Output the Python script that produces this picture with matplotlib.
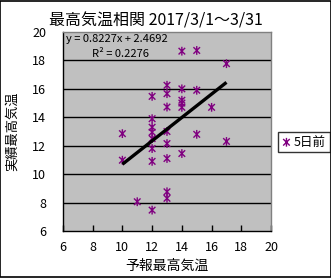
import numpy as np
import matplotlib
matplotlib.use("Agg")
import matplotlib.pyplot as plt
from matplotlib.path import Path
from matplotlib.patches import Rectangle

plt.rcParams['font.family'] = ['Noto Sans CJK JP', 'DejaVu Sans']

# Data (forecast max temp vs actual max temp)
forecast = [10, 10,
            11,
            12, 12, 12, 12, 12, 12, 12, 12,
            13, 13, 13, 13, 13, 13, 13, 13,
            14, 14, 14, 14, 14, 14,
            15, 15, 15,
            16,
            17, 17]
actual = [12.85, 10.98,
          8.06,
          15.47, 13.9, 13.3, 12.95, 12.5, 11.8, 10.9, 7.47,
          16.25, 15.66, 14.72, 13.0, 12.15, 11.1, 8.76, 8.3,
          18.65, 16.0, 15.2, 15.0, 14.7, 11.45,
          18.7, 15.9, 12.8,
          14.7,
          17.77, 12.3]
slope = 0.8227
intercept = 2.4692
r2 = 0.2276
series_name = "5日前"
title = "最高気温相関 2017/3/1～3/31"
xlabel = "予報最高気温"
ylabel = "実績最高気温"
xticks = [6, 8, 10, 12, 14, 16, 18, 20]
yticks = [6, 8, 10, 12, 14, 16, 18, 20]

# Excel-style star marker: vertical bar + X
star = Path([(0, -1), (0, 1), (-0.75, -0.75), (0.75, 0.75), (-0.75, 0.75), (0.75, -0.75)],
            [Path.MOVETO, Path.LINETO, Path.MOVETO, Path.LINETO, Path.MOVETO, Path.LINETO])

fig = plt.figure(figsize=(3.31, 2.78), dpi=100)
fig.patches.append(Rectangle((0.0015, 0.0018), 0.997, 0.996, transform=fig.transFigure,
                             fill=False, edgecolor='black', linewidth=1.2))
ax = fig.add_axes([0.190, 0.169, 0.629, 0.716])
ax.set_facecolor('#c0c0c0')
ax.set_xlim(6, 20)
ax.set_ylim(6, 20)
ax.set_xticks(xticks)
ax.set_yticks(yticks)
for y in yticks[1:-1]:
    ax.axhline(y, color='black', linewidth=1.0, zorder=1)

ax.scatter(forecast, actual, marker=star, s=40, facecolors='none', edgecolors='#800080',
           linewidths=1.0, zorder=3, label=series_name)

xs = np.array([min(forecast), max(forecast)])
ax.plot(xs, slope * xs + intercept, color='black', linewidth=2.4, zorder=4,
        solid_capstyle='butt')

for side in ['top', 'right']:
    ax.spines[side].set_color('#808080')
    ax.spines[side].set_linewidth(1.0)
for side in ['left', 'bottom']:
    ax.spines[side].set_color('black')
    ax.spines[side].set_linewidth(1.0)

ax.tick_params(axis='x', direction='in', length=4, width=1, pad=7, labelsize=9)
ax.tick_params(axis='y', length=0, pad=12, labelsize=9)

ax.text(0.015, 0.99, f"y = {slope}x + {intercept}", transform=ax.transAxes,
        ha='left', va='top', fontsize=8)
ax.text(0.14, 0.915, f"R² = {r2}", transform=ax.transAxes,
        ha='left', va='top', fontsize=8)

fig.text(0.47, 0.925, title, ha='center', va='center', fontsize=11.5)
fig.text(0.505, 0.042, xlabel, ha='center', va='center', fontsize=10)
fig.text(0.036, 0.527, ylabel, ha='center', va='center', rotation=90, fontsize=9.5)

leg = fig.legend(loc='center left', bbox_to_anchor=(0.822, 0.489), frameon=True,
                 fancybox=False, edgecolor='black', fontsize=9, handlelength=0.7,
                 handletextpad=0.25, borderpad=0.3, markerscale=1.0)
leg.get_frame().set_linewidth(1.0)

fig.savefig("out.png", dpi=100)
